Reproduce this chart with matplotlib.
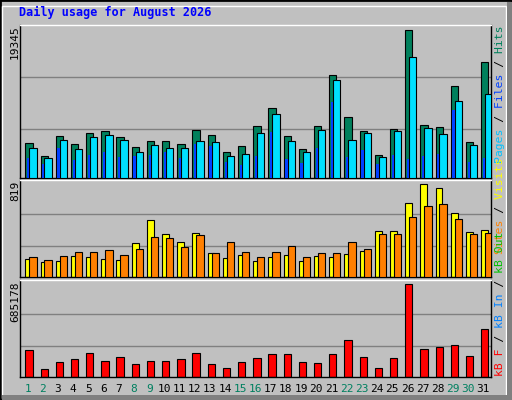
import numpy as np
import matplotlib
matplotlib.use("Agg")
import matplotlib.pyplot as plt
from matplotlib.patches import Rectangle

days = list(range(1, 32))
weekend_days = [1, 2, 8, 9, 15, 16, 22, 23, 29, 30]

hits = [4508, 2801, 5427, 4377, 5821, 6084, 5296, 3983, 4771, 4771, 4377, 6215, 5559, 3326, 4114, 6740,
        9104, 5427, 3720, 6740, 13437, 7922, 6084, 2933, 6346, 19345, 6872, 6609, 11993, 4640, 15144]
files = [3852, 2539, 4902, 3720, 5296, 5559, 4902, 3326, 4246, 3852, 3852, 4771, 4640, 2801, 3064, 5821,
         8316, 4771, 3326, 6215, 12781, 4902, 5821, 2670, 6084, 15801, 6478, 5690, 10023, 4246, 10943]
pages = [2539, 1751, 3852, 2276, 2933, 3326, 2670, 2801, 2933, 3326, 2539, 4377, 4114, 2013, 1619, 2801,
         5953, 2407, 1882, 3852, 9892, 2670, 3589, 1751, 2933, 2407, 2801, 3064, 8842, 2013, 2539]
visits = [160, 134, 142, 187, 178, 160, 151, 303, 507, 383, 312, 392, 214, 169, 196, 142,
          178, 196, 142, 187, 178, 205, 231, 409, 409, 650, 819, 783, 570, 401, 418]
sites = [178, 151, 187, 223, 223, 240, 196, 249, 356, 347, 267, 374, 214, 312, 223, 178,
         223, 276, 178, 214, 214, 312, 249, 383, 383, 534, 632, 641, 516, 383, 392]
kbytes = [197555, 62518, 107530, 130036, 175049, 115032, 145041, 92526, 115032, 115032, 130036, 175049,
          92526, 70020, 107530, 137539, 167547, 167547, 107530, 100028, 167547, 272576, 145041, 70020,
          137539, 685178, 205057, 220062, 235066, 152543, 355099]

W, H = 512, 400
BG = "#C0C0C0"
mono = "DejaVu Sans Mono"

fig = plt.figure(figsize=(W / 100, H / 100), dpi=100, facecolor=BG)

# bevel frame
fig.patches.append(Rectangle((0, 0), 1, 1, transform=fig.transFigure, fill=False, edgecolor="black", lw=2))
fig.patches.append(Rectangle((2 / W, 2 / H), 1 - 8 / W, 1 - 8 / H, transform=fig.transFigure,
                             fill=False, edgecolor="white", lw=1))
fig.patches.append(Rectangle((2 / W, 0), 1 - 2 / W, 5 / H, transform=fig.transFigure,
                             facecolor="#808080", edgecolor="none"))
fig.patches.append(Rectangle((1 - 5 / W, 0), 5 / W, 1 - 2 / H, transform=fig.transFigure,
                             facecolor="#808080", edgecolor="none"))

fig.text(19 / W, 1 - 12 / H, "Daily usage for August 2026", color="#0000FF", fontsize=8.5,
         fontweight="bold", family=mono, va="center", ha="left")

x = np.arange(31)
left, width = 20 / W, 471 / W


def make_ax(top_px, bot_px):
    ax = fig.add_axes([left, 1 - bot_px / H, width, (bot_px - top_px) / H])
    ax.set_facecolor(BG)
    ax.set_xlim(0, 31)
    ax.set_xticks([])
    ax.set_yticks([])
    for s in ax.spines.values():
        s.set_color("black")
        s.set_linewidth(1)
    ax.spines["top"].set_color("white")
    return ax


def grid(ax, ymax):
    for f in (0.33, 0.68):
        ax.axhline(ymax * f, color="#808080", lw=1, zorder=0)


# top panel
ax1 = make_ax(24.5, 177.5)
m1 = 19345
ax1.set_ylim(0, m1 * 1.035)
grid(ax1, m1)
ax1.bar(x + 0.35, hits, 0.48, align="edge", color="#00805C", edgecolor="black", lw=0.8, zorder=2)
ax1.bar(x + 0.61, files, 0.48, align="edge", color="#00E0FF", edgecolor="black", lw=0.8, zorder=3)
ax1.bar(x + 0.46, pages, 0.15, align="edge", color="#0040FF", edgecolor="none", zorder=4)

# middle panel
ax2 = make_ax(180, 277)
m2 = 819
ax2.set_ylim(0, m2 * 1.047)
grid(ax2, m2)
ax2.bar(x + 0.35, visits, 0.45, align="edge", color="#FFFF00", edgecolor="black", lw=0.8, zorder=2)
ax2.bar(x + 0.61, sites, 0.48, align="edge", color="#FF8000", edgecolor="black", lw=0.8, zorder=3)

# bottom panel
ax3 = make_ax(280, 377)
m3 = 685178
ax3.set_ylim(0, m3 * 1.044)
grid(ax3, m3)
ax3.bar(x + 0.35, kbytes, 0.48, align="edge", color="#FF0000", edgecolor="black", lw=0.8, zorder=2)

# left max labels
for ytop, label in [(25, "19345"), (181, "819"), (282, "685178")]:
    fig.text(15 / W, 1 - ytop / H, label, rotation=90, fontsize=8, family=mono,
             va="top", ha="center", color="black")

# day labels
for d in days:
    col = "#008060" if d in weekend_days else "black"
    fig.text((20 + (d - 0.5) * 471 / 31) / W, 1 - 389 / H, str(d), fontsize=8, family=mono,
             ha="center", va="center", color=col)


# right legends (read bottom to top); each coloured part padded with spaces
def legend(parts, bottom_px):
    full = "".join(t for t, _ in parts)
    pos = 0
    for text, col in parts:
        s = " " * pos + text + " " * (len(full) - pos - len(text))
        fig.text(500 / W, 1 - bottom_px / H, s.replace(" ", "\u00a0"), rotation=90, fontsize=8.2,
                 family=mono, ha="center", va="bottom", color=col)
        pos += len(text)


legend([("Pages", "#00C0FF"), (" / ", "#000000"), ("Files", "#0040FF"), (" / ", "#000000"),
        ("Hits", "#00805C")], 163)
legend([("Sites", "#FF8000"), (" / ", "#000000"), ("Visits", "#FFFF00")], 254)
legend([("kB F", "#FF0000"), (" / ", "#000000"), ("kB In", "#0080FF"), (" / ", "#000000"),
        ("kB Out", "#00C000")], 376)

fig.savefig("out.png", dpi=100, facecolor=BG)
